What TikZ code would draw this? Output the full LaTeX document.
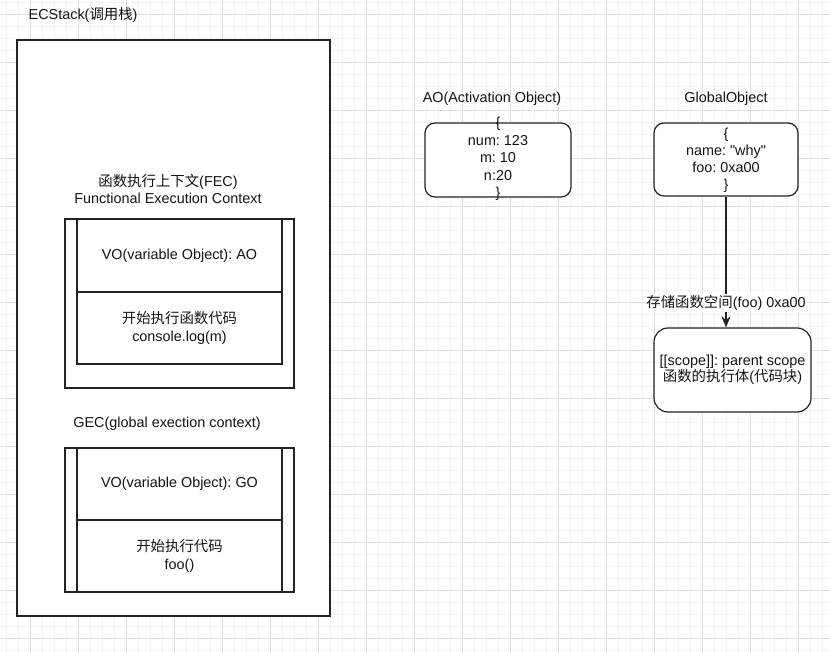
\documentclass[tikz,border=0pt]{standalone}
\usepackage{fontspec}
\setmainfont{Liberation Sans}[Ligatures=TeXOff]
\newfontfamily\cjk{Noto Sans CJK SC}
\usetikzlibrary{arrows.meta}
\definecolor{majorgrid}{RGB}{222,222,222}
\definecolor{minorgrid}{RGB}{244,244,244}
\definecolor{edgecol}{RGB}{35,35,35}
\definecolor{ink}{RGB}{20,20,20}
\frenchspacing
\begin{document}
\begin{tikzpicture}[x=1pt,y=-1pt,
  txt/.style={font=\fontsize{14.4}{17.5}\selectfont, text=ink, inner sep=0pt, align=center},
  box/.style={draw=edgecol, line width=1.2pt, fill=white, inner sep=0pt, anchor=center},
  rbox/.style={box, rounded corners=10pt},
  mingrid/.style={draw=minorgrid, line width=0.5pt},
  majgrid/.style={draw=majorgrid, line width=0.9pt},
  link/.style={draw=edgecol, line width=1.2pt, -{Stealth[length=11pt,width=9pt]}},
  lbl/.style={txt, fill=white, inner sep=1pt}]
\useasboundingbox (0,0) rectangle (829,652);
\fill[white] (0,0) rectangle (829,652);
% grid
\foreach \i in {0,...,68} {\draw[mingrid] ({6+12*\i},0) -- ({6+12*\i},652);}
\foreach \i in {0,...,54} {\draw[mingrid] (0,{2+12*\i}) -- (829,{2+12*\i});}
\foreach \i in {0,...,16} {\draw[majgrid] ({30+48*\i},0) -- ({30+48*\i},652);}
\foreach \i in {0,...,13} {\draw[majgrid] (0,{14+48*\i}) -- (829,{14+48*\i});}

% ECStack
\node[box, minimum width=313pt, minimum height=576pt] (ecstack) at (173.5,328) {};
\node[txt, anchor=west] (ectitle) at (28.5,15) {ECStack({\cjk 调用栈})};

% FEC
\node[txt] (fectitle) at (168,189) {{\cjk 函数执行上下文}(FEC)\\Functional Execution Context};
\node[box, minimum width=229pt, minimum height=169pt] (fec) at (179.5,303.5) {};
\node[box, txt, draw=edgecol, line width=1.2pt, fill=white, minimum width=205pt, minimum height=73pt] (fecvo) at (179.5,255.5) {VO(variable Object): AO};
\node[box, txt, draw=edgecol, line width=1.2pt, fill=white, minimum width=205pt, minimum height=72pt] (feccode) at (179.5,328) {{\cjk 开始执行函数代码}\\console.log(m)};

% GEC
\node[txt] (gectitle) at (167,424) {GEC(global exection context)};
\node[box, minimum width=229pt, minimum height=144pt] (gec) at (179.5,520) {};
\node[box, txt, draw=edgecol, line width=1.2pt, fill=white, minimum width=205pt, minimum height=72pt] (gecvo) at (179.5,484) {VO(variable Object): GO};
\node[box, txt, draw=edgecol, line width=1.2pt, fill=white, minimum width=205pt, minimum height=72pt] (geccode) at (179.5,556) {{\cjk 开始执行代码}\\foo()};

% AO
\node[txt] (aotitle) at (492,99) {AO(Activation Object)};
\node[rbox, minimum width=146pt, minimum height=74pt] (ao) at (498,160) {};
\node[txt] (aotext) at (498,159) {\{\\num: 123\\m: 10\\n:20\\\}};

% GlobalObject
\node[txt] (gotitle) at (726,99) {GlobalObject};
\node[rbox, minimum width=144pt, minimum height=73pt] (go) at (726,159.5) {};
\node[txt, font=\fontsize{14.4}{17}\selectfont] (gotext) at (726,160.5) {\{\\name: "why"\\foo: 0xa00\\\}};

% function space
\node[rbox, rounded corners=14pt, minimum width=157pt, minimum height=84pt] (fn) at (732.5,370) {};
\node[txt, font=\fontsize{14.4}{16.5}\selectfont] (fntext) at (732.5,370) {[[scope]]: parent scope\\{\cjk 函数的执行体}({\cjk 代码块})};

\draw[link] (go.south) -- (go.south |- fn.north);
\node[lbl] (fnlabel) at (726,303) {{\cjk 存储函数空间}(foo) 0xa00};
\end{tikzpicture}
\end{document}
